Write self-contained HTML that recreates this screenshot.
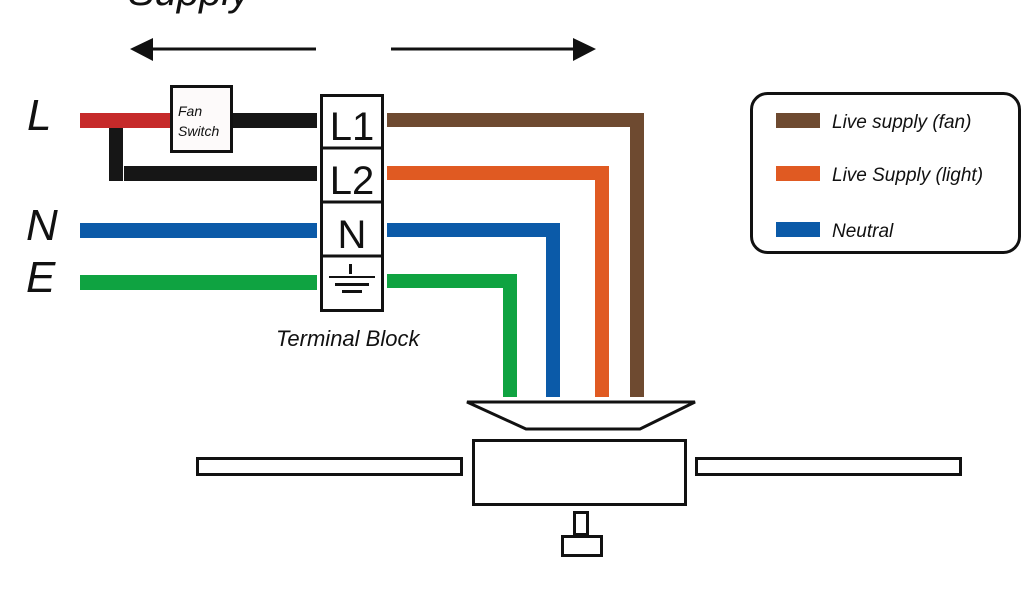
<!DOCTYPE html>
<html><head><style>
html,body{margin:0;padding:0;background:#fff;}
svg{display:block}
text{font-family:"Liberation Sans",sans-serif;font-style:italic}
</style></head><body>
<svg width="1024" height="600" viewBox="0 0 1024 600" xmlns="http://www.w3.org/2000/svg">
<rect width="1024" height="600" fill="#fff"/>
<text x="128" y="5" font-size="40" fill="#111">Supply</text>
<line x1="316" y1="49" x2="150" y2="49" stroke="#111" stroke-width="3"/>
<polygon points="130,49 153,38 153,61" fill="#111"/>
<line x1="391" y1="49" x2="576" y2="49" stroke="#111" stroke-width="3"/>
<polygon points="596,49 573,38 573,61" fill="#111"/>
<text x="27" y="130" font-size="44" fill="#111">L</text>
<text x="26" y="240" font-size="44" fill="#111">N</text>
<text x="26" y="292" font-size="44" fill="#111">E</text>
<rect x="80" y="113" width="92" height="15" fill="#c62a2a"/>
<rect x="232" y="113" width="85" height="15" fill="#161616"/>
<rect x="109" y="128" width="14" height="53" fill="#161616"/>
<rect x="124" y="166" width="193" height="15" fill="#161616"/>
<rect x="80" y="223" width="237" height="15" fill="#0b5aa8"/>
<rect x="80" y="275" width="237" height="15" fill="#0fa341"/>
<rect x="171.5" y="86.5" width="60" height="65" fill="#fdfafa" stroke="#111" stroke-width="3"/>
<text x="178" y="116" font-size="14" fill="#111">Fan</text>
<text x="178" y="136" font-size="14" fill="#111">Switch</text>
<rect x="321.5" y="95.5" width="61" height="215" fill="#fff" stroke="#111" stroke-width="3"/>
<line x1="321" y1="148" x2="383" y2="148" stroke="#111" stroke-width="3"/>
<line x1="321" y1="202" x2="383" y2="202" stroke="#111" stroke-width="3"/>
<line x1="321" y1="256" x2="383" y2="256" stroke="#111" stroke-width="3"/>
<text x="352" y="140" font-size="40" fill="#111" text-anchor="middle" style="font-style:normal">L1</text>
<text x="352" y="194" font-size="40" fill="#111" text-anchor="middle" style="font-style:normal">L2</text>
<text x="352" y="248" font-size="40" fill="#111" text-anchor="middle" style="font-style:normal">N</text>
<rect x="349" y="264" width="3" height="10" fill="#111"/>
<rect x="329" y="276" width="46" height="2" fill="#111"/>
<rect x="335" y="283" width="34" height="3" fill="#111"/>
<rect x="342" y="290" width="20" height="3" fill="#111"/>
<text x="276" y="346" font-size="22" fill="#111">Terminal Block</text>
<path d="M387 120 H637 V397" fill="none" stroke="#6e4a30" stroke-width="14"/>
<path d="M387 173 H602 V397" fill="none" stroke="#e05a22" stroke-width="14"/>
<path d="M387 230 H553 V397" fill="none" stroke="#0b5aa8" stroke-width="14"/>
<path d="M387 281 H510 V397" fill="none" stroke="#0fa341" stroke-width="14"/>
<polygon points="467,402 695,402 640,429 526,429" fill="#fff" stroke="#111" stroke-width="3"/>
<rect x="473.5" y="440.5" width="212" height="64" fill="#fff" stroke="#111" stroke-width="3"/>
<rect x="197.5" y="458.5" width="264" height="16" fill="#fff" stroke="#111" stroke-width="3"/>
<rect x="696.5" y="458.5" width="264" height="16" fill="#fff" stroke="#111" stroke-width="3"/>
<rect x="574.5" y="512.5" width="13" height="22" fill="#fff" stroke="#111" stroke-width="3"/>
<rect x="562.5" y="536.5" width="39" height="19" fill="#fff" stroke="#111" stroke-width="3"/>
<rect x="751.5" y="93.5" width="268" height="159" rx="16" fill="#fff" stroke="#111" stroke-width="3"/>
<rect x="776" y="113" width="44" height="15" fill="#6e4a30"/>
<rect x="776" y="166" width="44" height="15" fill="#e05a22"/>
<rect x="776" y="222" width="44" height="15" fill="#0b5aa8"/>
<text x="832" y="128" font-size="19" fill="#111">Live supply (fan)</text>
<text x="832" y="181" font-size="19" fill="#111">Live Supply (light)</text>
<text x="832" y="237" font-size="19" fill="#111">Neutral</text>
</svg>
</body></html>
